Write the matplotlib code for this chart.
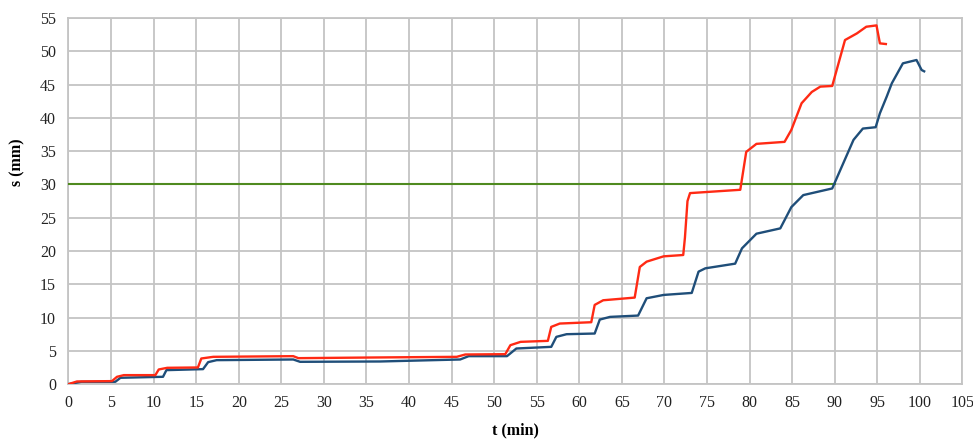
"""Displacement s over time t for two measuring points, with the 30 mm limit line."""
import matplotlib
matplotlib.use("Agg")
import matplotlib.pyplot as plt

# red series (breakpoints)
t_red = [0, 1.0, 5.1, 5.7, 6.5, 10.2, 10.6, 11.6, 15.2, 15.6, 17.0, 26.4, 27.0, 35.8,
         45.6, 46.6, 51.3, 51.9, 53.1, 56.3, 56.7, 57.7, 61.4, 61.8, 62.8, 66.5,
         67.1, 67.9, 69.9, 72.2, 72.4, 72.7, 73.0, 78.9, 79.6, 80.8, 84.1, 84.9,
         86.1, 87.3, 88.3, 89.7, 91.2, 92.6, 93.7, 94.9, 95.3, 96.0]
s_red = [0, 0.4, 0.45, 1.1, 1.35, 1.35, 2.2, 2.45, 2.5, 3.85, 4.1, 4.2, 3.9, 4.0,
         4.1, 4.45, 4.5, 5.85, 6.35, 6.5, 8.6, 9.1, 9.3, 11.9, 12.6, 13.0,
         17.6, 18.4, 19.2, 19.4, 22.0, 27.5, 28.7, 29.2, 34.9, 36.1, 36.4, 38.2,
         42.2, 43.9, 44.7, 44.8, 51.7, 52.7, 53.7, 53.9, 51.2, 51.1]

# blue series
t_blue = [0, 1.5, 5.5, 6.1, 11.1, 11.5, 15.8, 16.4, 17.4, 26.4, 27.2, 36.6, 39.7,
          46.0, 47.0, 51.5, 52.6, 56.7, 57.3, 58.5, 61.8, 62.4, 63.6, 66.9, 67.9,
          69.9, 73.2, 74.0, 74.8, 78.3, 79.1, 80.8, 83.6, 84.9, 86.3, 89.7, 92.2,
          93.3, 94.8, 95.3, 96.1, 96.7, 98.0, 99.6, 100.2, 100.5]
s_blue = [0, 0.35, 0.35, 0.95, 1.1, 2.1, 2.25, 3.3, 3.6, 3.7, 3.35, 3.4, 3.5,
          3.7, 4.2, 4.2, 5.35, 5.6, 7.1, 7.5, 7.6, 9.7, 10.1, 10.3, 12.9,
          13.4, 13.7, 16.9, 17.4, 18.1, 20.4, 22.6, 23.4, 26.6, 28.4, 29.4, 36.7,
          38.4, 38.6, 40.7, 43.2, 45.2, 48.2, 48.7, 47.2, 47.0]

# limit line
t_limit = [0, 90.0]
s_limit = [30, 30]

x_ticks = list(range(0, 106, 5))
y_ticks = list(range(0, 56, 5))

plt.rcParams["font.family"] = ["Liberation Serif", "DejaVu Serif"]

fig = plt.figure(figsize=(9.73, 4.41), dpi=100)
ax = fig.add_axes([0.0704, 0.129, 0.9188, 0.830])

grid_c = "#c4c4c4"
ax.plot(t_limit, s_limit, color="#4f8a1f", lw=1.5, zorder=3)
ax.plot(t_blue, s_blue, color="#1f4e79", lw=1.7, zorder=4)
ax.plot(t_red, s_red, color="#ff2a14", lw=1.7, zorder=5)

ax.set_xlim(0, 105)
ax.set_ylim(0, 55)
ax.set_xticks(x_ticks)
ax.set_yticks(y_ticks)
ax.grid(True, color=grid_c, lw=1.3)
ax.set_axisbelow(True)
for sp in ax.spines.values():
    sp.set_color(grid_c)
    sp.set_linewidth(1.3)
ax.tick_params(length=0, labelsize=11.5, colors="#222222")
ax.tick_params(axis="y", pad=9)
ax.tick_params(axis="x", pad=8)

ax.set_ylabel("s (mm)", fontsize=11.5, fontweight="bold")
ax.yaxis.set_label_coords(-0.048, 0.607)
ax.set_xlabel("t (min)", fontsize=11.5, fontweight="bold")
ax.xaxis.set_label_coords(0.5, -0.105)

fig.savefig("out.png", dpi=100)
